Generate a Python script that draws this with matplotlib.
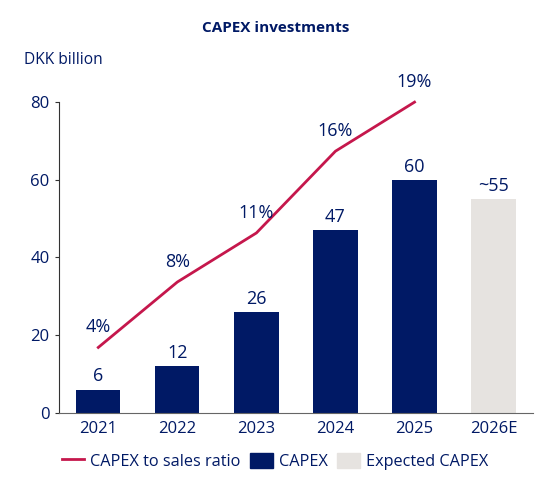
import matplotlib.pyplot as plt
from matplotlib.lines import Line2D
from matplotlib.patches import Patch

plt.rcParams['font.family'] = ['Open Sans', 'DejaVu Sans']

# Values
years = ['2021', '2022', '2023', '2024', '2025', '2026E']
capex = [6, 12, 26, 47, 60, 55]
capex_labels = ['6', '12', '26', '47', '60', '~55']
ratio_years = ['2021', '2022', '2023', '2024', '2025']
ratio = [4, 8, 11, 16, 19]

navy = '#001965'
crimson = '#c5174c'
grey = '#e6e3e0'

fig = plt.figure(figsize=(5.44, 4.84), dpi=100)
ax = fig.add_axes([0.108, 0.147, 0.872, 0.642])

x = list(range(len(years)))
colors = [navy] * 5 + [grey]
ax.bar(x, capex, width=0.56, color=colors, zorder=2)
for xi, v, lab in zip(x, capex, capex_labels):
    ax.annotate(lab, (xi, v), xytext=(0, 3), textcoords='offset points',
                ha='center', va='bottom', fontsize=13, color=navy)

ax.set_xlim(-0.5, 5.5)
ax.set_ylim(0, 80)
ax.set_yticks([0, 20, 40, 60, 80])
ax.set_xticks(x)
ax.set_xticklabels(years)
ax.tick_params(axis='y', length=3, width=0.8, colors='#333333', labelcolor=navy, labelsize=12)
ax.tick_params(axis='x', length=0, labelcolor=navy, labelsize=12, pad=6)
for s in ['top', 'right']:
    ax.spines[s].set_visible(False)
ax.spines['left'].set_color('#333333')
ax.spines['bottom'].set_color('#666666')

# ratio line on a hidden secondary scale (19% at the top of the axis)
ax2 = ax.twinx()
ax2.set_ylim(0, 19)
rx = [years.index(y) for y in ratio_years]
ax2.plot(rx, ratio, color=crimson, lw=2, clip_on=False, zorder=3)
for xi, v in zip(rx, ratio):
    ax2.annotate(f'{v}%', (xi, v), xytext=(0, 8), textcoords='offset points',
                 ha='center', va='bottom', fontsize=13, color=navy)
ax2.axis('off')

fig.text(0.507, 0.942, 'CAPEX investments', ha='center', va='center',
         fontsize=11, fontweight='bold', color=navy)
fig.text(0.045, 0.876, 'DKK billion', ha='left', va='center', fontsize=11.2, color=navy)

handles = [Line2D([0], [0], color=crimson, lw=2),
           Patch(color=navy), Patch(color=grey)]
fig.legend(handles, ['CAPEX to sales ratio', 'CAPEX', 'Expected CAPEX'],
           loc='center', bbox_to_anchor=(0.505, 0.047), ncol=3, frameon=False,
           fontsize=11.7, labelcolor=navy, handlelength=1.4, handleheight=1.05,
           handletextpad=0.35, columnspacing=0.6)

fig.savefig('out.png', dpi=100)
